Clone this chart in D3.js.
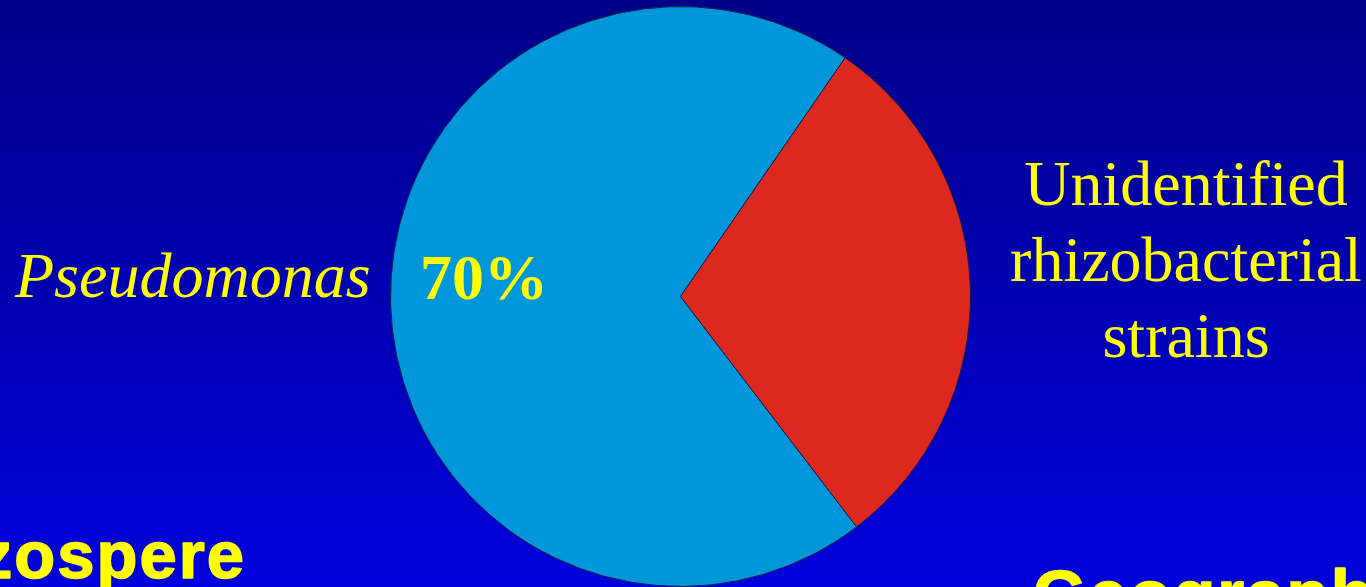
<!DOCTYPE html>
<html>
<head>
<meta charset="utf-8">
<script src="https://cdn.jsdelivr.net/npm/d3@7/dist/d3.min.js"></script>
<style>
  html, body { margin: 0; padding: 0; overflow: hidden; background: #000088; }
  svg { display: block; }
</style>
</head>
<body>
<svg id="chart" width="1366" height="587"></svg>
<script>
// Share of isolated rhizobacteria by genus
const categories = ["Pseudomonas", "Unidentified rhizobacterial strains"];
const shares = [70, 30];
const sliceColors = ["#0096dc", "#dc281e"];
const unidentifiedLines = ["Unidentified", "rhizobacterial", "strains"];

const W = 1366, H = 587;
const svg = d3.select("#chart");

// slide background: vertical navy-to-blue gradient
const defs = svg.append("defs");
const grad = defs.append("linearGradient")
  .attr("id", "bg").attr("x1", 0).attr("y1", 0).attr("x2", 0).attr("y2", 1);
grad.append("stop").attr("offset", "0%").attr("stop-color", "#000088");
grad.append("stop").attr("offset", "100%").attr("stop-color", "#0000dc");
svg.append("rect").attr("width", W).attr("height", H).attr("fill", "url(#bg)");

// pie
const cx = 680.5, cy = 296.5, R = 290;
const start = 142.6 * Math.PI / 180;
const pie = d3.pie().sort(null).value(d => d.value)
  .startAngle(start).endAngle(start + 2 * Math.PI);
const arc = d3.arc().innerRadius(0).outerRadius(R);
const color = d3.scaleOrdinal().domain(categories).range(sliceColors);

const data = categories.map((c, i) => ({ name: c, value: shares[i] }));
const g = svg.append("g").attr("transform", `translate(${cx},${cy})`);
g.selectAll("path.slice").data(pie(data)).join("path")
  .attr("class", "slice")
  .attr("d", arc)
  .attr("fill", d => color(d.data.name))
  .attr("stroke", "#1c1c3c")
  .attr("stroke-width", 1);

// labels
const yellow = "#ffff00";
svg.append("text")
  .attr("x", 15).attr("y", 297)
  .attr("font-family", "'Liberation Serif', 'Times New Roman', serif")
  .attr("font-style", "italic")
  .attr("font-size", 64)
  .attr("fill", yellow)
  .text(categories[0]);

svg.append("text")
  .attr("x", 420).attr("y", 299)
  .attr("font-family", "'Liberation Serif', 'Times New Roman', serif")
  .attr("font-weight", "bold")
  .attr("font-size", 64)
  .attr("fill", yellow)
  .text(d3.format("d")(shares[0]) + "%");

const right = svg.append("text")
  .attr("text-anchor", "middle")
  .attr("font-family", "'Liberation Serif', 'Times New Roman', serif")
  .attr("font-size", 64)
  .attr("fill", yellow);
right.selectAll("tspan").data(unidentifiedLines).join("tspan")
  .attr("x", 1186)
  .attr("y", (d, i) => 205 + i * 76)
  .text(d => d);

// slide headings running off the edges
const headingStyle = sel => sel
  .attr("font-family", "'Liberation Sans', Arial, sans-serif")
  .attr("font-weight", "bold")
  .attr("fill", yellow)
  .attr("stroke", yellow)
  .attr("stroke-width", 1.5)
  .attr("stroke-linejoin", "round")
  .attr("letter-spacing", 2);

svg.append("text")
  .attr("x", 246).attr("y", 578)
  .attr("text-anchor", "end")
  .attr("font-size", 67)
  .call(headingStyle)
  .text("Rhizospere");

svg.append("text")
  .attr("x", 1033).attr("y", 618)
  .attr("font-size", 69)
  .call(headingStyle)
  .text("Geographic");
</script>
</body>
</html>
